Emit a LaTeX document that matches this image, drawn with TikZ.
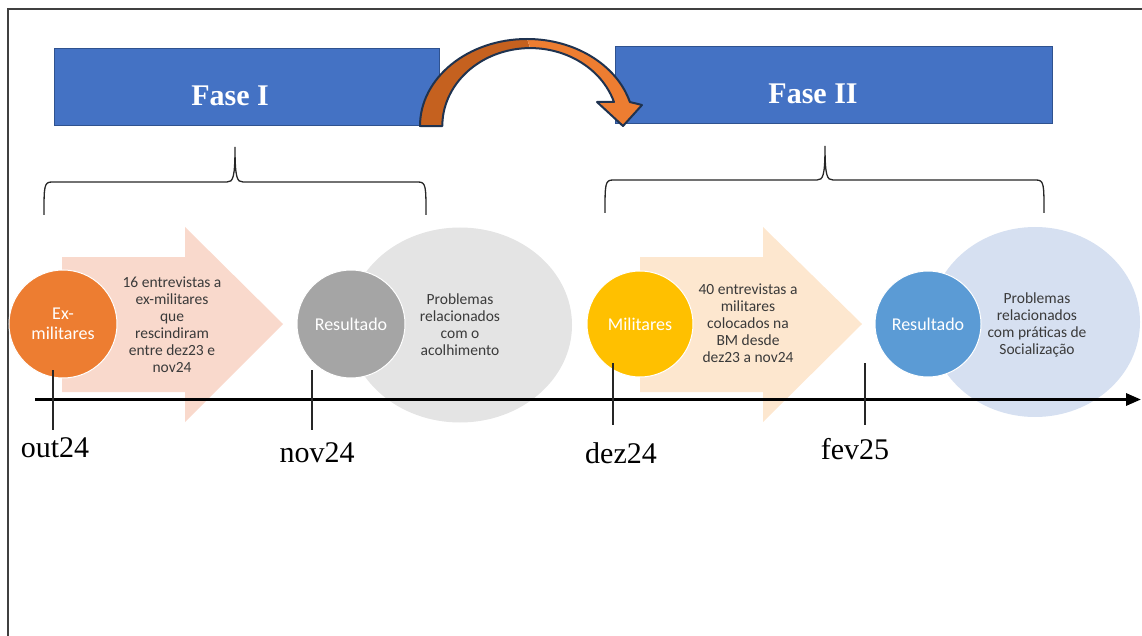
\documentclass[tikz,border=0pt]{standalone}
\usepackage{fontspec}
\setmainfont{Liberation Serif}
\newfontfamily\calib{Carlito}
\usetikzlibrary{arrows.meta,shapes.geometric}
\definecolor{phaseblue}{HTML}{4472C4}
\definecolor{phaseline}{HTML}{2F528F}
\definecolor{arrdark}{HTML}{C5611F}
\definecolor{arrlight}{HTML}{ED7D31}
\definecolor{navy}{HTML}{1F3350}
\definecolor{chevA}{HTML}{F9D9CC}
\definecolor{chevB}{HTML}{FDE7CF}
\definecolor{exorange}{HTML}{ED7D31}
\definecolor{resgray}{HTML}{A5A5A5}
\definecolor{milyellow}{HTML}{FFC000}
\definecolor{resblue}{HTML}{5B9BD5}
\definecolor{ellgray}{HTML}{E4E4E4}
\definecolor{ellblue}{HTML}{D6E0F1}
\definecolor{bodytext}{HTML}{3A3A3A}
\definecolor{framecol}{HTML}{404040}
\begin{document}
\begin{tikzpicture}[x=1pt,y=-1pt,
  phasebox/.style={draw=phaseline,line width=1pt,fill=phaseblue,minimum height=77pt,inner sep=0},
  phasetext/.style={text=white,font=\fontsize{30}{36}\selectfont\bfseries,inner sep=0},
  circ/.style={circle,draw=white,line width=1pt,minimum size=108pt,inner sep=0,text=white,align=center,font=\calib\fontsize{18}{20}\selectfont},
  ell/.style={ellipse,inner sep=0},
  bodytxt/.style={text=bodytext,align=center,font=\calib\fontsize{15.5}{17}\selectfont,inner sep=0},
  datelbl/.style={font=\fontsize{30}{36}\selectfont,inner sep=0},
  brace/.style={line width=1.3pt,black!85},
  tick/.style={line width=1.5pt,black!85}]
\useasboundingbox (0,0) rectangle (1142,636);
\draw[framecol,line width=2pt] (7.5,640) -- (7.5,9) -- (1145,9);

% phase boxes
\node[phasebox,minimum width=385pt] (f1box) at (246.5,87.5) {};
\node[phasetext] (f1) at (230,96) {Fase I};
\node[phasebox,minimum width=437pt] (f2box) at (833.5,85.5) {};
\node[phasetext] (f2) at (813,94) {Fase II};

% curved arrow
\fill[arrdark] (420,126) arc[start angle=180,end angle=270,x radius=107,y radius=87] -- (530,48) arc[start angle=270,end angle=180,x radius=88,y radius=78] -- cycle;
\fill[arrlight] (527,39) arc[start angle=270,end angle=344,x radius=107,y radius=87] -- (642,105) -- (623,126) -- (597,102) -- (614,102) arc[start angle=342,end angle=270,x radius=88,y radius=78] -- cycle;
\draw[navy,line width=2pt,line join=round] (420,126) arc[start angle=180,end angle=344,x radius=107,y radius=87] -- (642,105) -- (623,126) -- (597,102) -- (614,102) arc[start angle=342,end angle=180,x radius=88,y radius=78] -- cycle;

% braces
\draw[brace] (44,215) .. controls (44,186) and (44,182) .. (52,182) -- (227,182) .. controls (233,182) and (235,178) .. (235,147) .. controls (235,178) and (237,182) .. (243,182) -- (418,182) .. controls (426,182) and (426,186) .. (426,215);
\draw[brace] (605,213) .. controls (605,184) and (605,180) .. (613,180) -- (817,180) .. controls (823,180) and (825,176) .. (825,146) .. controls (825,176) and (827,180) .. (833,180) -- (1036,180) .. controls (1044,180) and (1044,184) .. (1044,213);

% ellipses
\node[ell,fill=ellgray,minimum width=224pt,minimum height=195pt] (e1) at (460,325) {};
\node[ell,fill=ellblue,minimum width=210pt,minimum height=190pt] (e2) at (1035,322) {};

% chevrons
\fill[chevA] (62,257) -- (185,257) -- (185,227) -- (283,324) -- (185,422) -- (185,392) -- (62,392) -- cycle;
\fill[chevB] (640,257) -- (763,257) -- (763,227) -- (862,324) -- (763,422) -- (763,392) -- (640,392) -- cycle;

% circles
\node[circ,fill=exorange] (c1) at (63,324) {Ex-\\militares};
\node[circ,fill=resgray] (c2) at (351,324) {Resultado};
\node[circ,fill=milyellow,minimum size=106pt] (c3) at (640,324) {Militares};
\node[circ,fill=resblue,minimum size=106pt] (c4) at (928,324) {Resultado};

% texts
\node[bodytxt] (t1) at (172,325) {16 entrevistas a\\ex-militares\\que\\rescindiram\\entre dez23 e\\nov24};
\node[bodytxt] (t2) at (460,325) {Problemas\\relacionados\\com o\\acolhimento};
\node[bodytxt] (t3) at (748,323) {40 entrevistas a\\militares\\colocados na\\BM desde\\dez23 a nov24};
\node[bodytxt] (t4) at (1037,325) {Problemas\\relacionados\\com práticas de\\Socialização};

% axis
\coordinate (axL) at (35,399.5);
\coordinate (axR) at (1141,399.5);
\draw[line width=3pt,-{Triangle[length=15pt,width=12pt]}] (axL) -- (axR);

% ticks
\coordinate (k1a) at (53,370); \coordinate (k1b) at (53,430);
\coordinate (k2a) at (312,370); \coordinate (k2b) at (312,430);
\coordinate (k3a) at (613,363); \coordinate (k3b) at (613,425);
\coordinate (k4a) at (865,363); \coordinate (k4b) at (865,425);
\draw[tick] (k1a) -- (k1b);
\draw[tick] (k2a) -- (k2b);
\draw[tick] (k3a) -- (k3b);
\draw[tick] (k4a) -- (k4b);

% date labels
\node[datelbl] (d1) at (55,448) {out24};
\node[datelbl] (d2) at (317,453) {nov24};
\node[datelbl] (d3) at (621,453) {dez24};
\node[datelbl] (d4) at (855,449) {fev25};
\end{tikzpicture}
\end{document}
